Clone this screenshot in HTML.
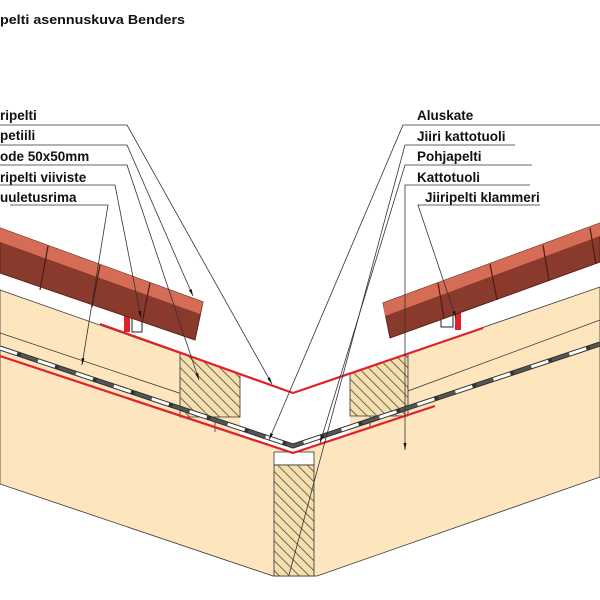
<!DOCTYPE html>
<html><head><meta charset="utf-8"><style>
html,body{margin:0;padding:0;background:#fff;}
svg{display:block;}
text{font-family:"Liberation Sans",sans-serif;font-weight:bold;fill:#111;}
</style></head><body>
<svg width="600" height="600" viewBox="0 0 600 600" xmlns="http://www.w3.org/2000/svg">
<defs>
<pattern id="h" width="7" height="7" patternUnits="userSpaceOnUse" patternTransform="rotate(-45)">
<rect width="7" height="7" fill="#f3dfb0"/><line x1="0" y1="0" x2="0" y2="7" stroke="#5a4a30" stroke-width="1.6"/>
</pattern>
<marker id="a" markerWidth="8" markerHeight="8" refX="7" refY="3" orient="auto" markerUnits="userSpaceOnUse"><path d="M0,1.5 L7,3 L0,4.5z" fill="#111"/></marker>
</defs>
<text x="0" y="24" font-size="13" textLength="185" lengthAdjust="spacingAndGlyphs">pelti asennuskuva Benders</text>

<polygon points="0,290 293,393 600,287 600,477 317,576 273,576 0,484" fill="#fde6bd" stroke="#333" stroke-width="0.8"/>
<polygon points="240,374 293,393 350,374 350,434 293,453 240,435" fill="#fff"/>
<line x1="0" y1="333" x2="215" y2="405" stroke="#333" stroke-width="0.8"/>
<line x1="215" y1="405" x2="215" y2="432" stroke="#333" stroke-width="0.8"/>
<line x1="600" y1="320" x2="370" y2="405" stroke="#333" stroke-width="0.8"/>
<line x1="370" y1="405" x2="370" y2="428" stroke="#333" stroke-width="0.8"/>
<polygon points="180,352 240,374 240,417 180,417" fill="url(#h)" stroke="#333" stroke-width="0.8"/>
<polygon points="350,374 408,354 408,416 350,416" fill="url(#h)" stroke="#333" stroke-width="0.8"/>
<rect x="274" y="452" width="40" height="13" fill="#fff" stroke="#333" stroke-width="0.8"/>
<rect x="274" y="465" width="40" height="111" fill="url(#h)" stroke="#333" stroke-width="0.8"/>
<polyline points="0,348 293,446 600,344" fill="none" stroke="#333" stroke-width="5"/>
<polyline points="0,348 293,446 600,344" fill="none" stroke="#fff" stroke-width="3" stroke-dasharray="18,22"/>
<polyline points="0,348 293,446 600,344" fill="none" stroke="#555" stroke-width="3" stroke-dasharray="0,22,18,0"/>
<polyline points="0,356 293,453 435,406" fill="none" stroke="#e0202a" stroke-width="2.2"/>
<polyline points="100,324 293,393 483,328" fill="none" stroke="#e0202a" stroke-width="2.2"/>
<rect x="124" y="314" width="6" height="18" fill="#e0202a"/>
<rect x="132" y="310" width="10" height="22" fill="#fff" stroke="#222" stroke-width="1"/>
<rect x="455" y="312" width="6" height="18" fill="#e0202a"/>
<rect x="441" y="305" width="12" height="22" fill="#fff" stroke="#222" stroke-width="1"/>
<polygon points="0,228 203,302 195,340 0,273" fill="#8a3a2c" stroke="#5a2418" stroke-width="1"/>
<polygon points="0,228 203,302 200,314 0,242" fill="#d46c56"/>
<g stroke="#4a1e14" stroke-width="1.2"><line x1="48" y1="246" x2="40" y2="290"/><line x1="100" y1="265" x2="92" y2="307"/><line x1="150" y1="283" x2="142" y2="323"/></g>
<polygon points="383,303 600,223 600,262 390,338" fill="#8a3a2c" stroke="#5a2418" stroke-width="1"/>
<polygon points="383,303 600,223 600,236 385,316" fill="#d46c56"/>
<g stroke="#4a1e14" stroke-width="1.2"><line x1="438" y1="283" x2="444" y2="318"/><line x1="490" y1="264" x2="497" y2="300"/><line x1="543" y1="245" x2="549" y2="281"/><line x1="590" y1="228" x2="596" y2="264"/></g>

<g font-size="13.5">
<text x="0" y="120">ripelti</text>
<text x="0" y="140">petiili</text>
<text x="0" y="161">ode 50x50mm</text>
<text x="0" y="182">ripelti viiviste</text>
<text x="0" y="202">uuletusrima</text>
<text x="417" y="120">Aluskate</text>
<text x="417" y="141">Jiiri kattotuoli</text>
<text x="417" y="161">Pohjapelti</text>
<text x="417" y="182">Kattotuoli</text>
<text x="425" y="202">Jiiripelti klammeri</text>
</g>
<g stroke="#333" stroke-width="0.8" fill="none">
<polyline points="0,125 127,125 272,384" marker-end="url(#a)"/>
<polyline points="0,145 127,145 193,296" marker-end="url(#a)"/>
<polyline points="0,165 127,165 199,380" marker-end="url(#a)"/>
<polyline points="0,185 115,185 141,318" marker-end="url(#a)"/>
<polyline points="10,205 108,205 82,365" marker-end="url(#a)"/>
<polyline points="600,125 403,125 269,440" marker-end="url(#a)"/>
<polyline points="515,145 405,145 289,575"/>
<polyline points="532,165 405,165 320,443" marker-end="url(#a)"/>
<polyline points="530,185 405,185 405,450" marker-end="url(#a)"/>
<polyline points="540,205 418,205 456,318" marker-end="url(#a)"/>
</g>
</svg>
</body></html>
